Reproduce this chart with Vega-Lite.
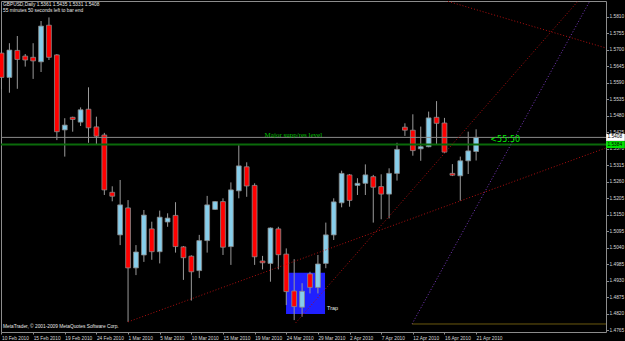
{
  "$schema": "https://vega.github.io/schema/vega-lite/v6.json",
  "width": 605,
  "height": 331,
  "autosize": {"type": "none"},
  "padding": {"left": 1, "top": 1, "right": 19, "bottom": 9},
  "background": "#000000",
  "config": {
    "view": {"stroke": "#8c8c8c", "fill": "#000000"},
    "text": {"font": "Liberation Sans"},
    "axis": {"labelOverlap": false, "labelFlush": false, "grid": false, "domain": false, "title": null}
  },
  "datasets": {
    "candles": [
      {"i": 0, "o": 1.5689, "h": 1.5766, "l": 1.5569, "c": 1.5608},
      {"i": 1, "o": 1.5608, "h": 1.5722, "l": 1.5557, "c": 1.5699},
      {"i": 2, "o": 1.5698, "h": 1.5746, "l": 1.5570, "c": 1.5668},
      {"i": 3, "o": 1.5679, "h": 1.5686, "l": 1.5644, "c": 1.5666},
      {"i": 4, "o": 1.5675, "h": 1.5722, "l": 1.5603, "c": 1.5663},
      {"i": 5, "o": 1.5660, "h": 1.5796, "l": 1.5626, "c": 1.5779},
      {"i": 6, "o": 1.5782, "h": 1.5808, "l": 1.5666, "c": 1.5675},
      {"i": 7, "o": 1.5683, "h": 1.5686, "l": 1.5399, "c": 1.5427},
      {"i": 8, "o": 1.5433, "h": 1.5472, "l": 1.5344, "c": 1.5449},
      {"i": 9, "o": 1.5475, "h": 1.5477, "l": 1.5427, "c": 1.5468},
      {"i": 10, "o": 1.5459, "h": 1.5508, "l": 1.5446, "c": 1.5500},
      {"i": 11, "o": 1.5502, "h": 1.5575, "l": 1.5390, "c": 1.5440},
      {"i": 12, "o": 1.5443, "h": 1.5477, "l": 1.5383, "c": 1.5412},
      {"i": 13, "o": 1.5416, "h": 1.5423, "l": 1.5216, "c": 1.5233},
      {"i": 14, "o": 1.5225, "h": 1.5245, "l": 1.5195, "c": 1.5212},
      {"i": 15, "o": 1.5083, "h": 1.5266, "l": 1.5049, "c": 1.5183},
      {"i": 16, "o": 1.5173, "h": 1.5199, "l": 1.4793, "c": 1.4973},
      {"i": 17, "o": 1.4973, "h": 1.5049, "l": 1.4949, "c": 1.5026},
      {"i": 18, "o": 1.5016, "h": 1.5166, "l": 1.4993, "c": 1.5149},
      {"i": 19, "o": 1.5103, "h": 1.5127, "l": 1.5000, "c": 1.5027},
      {"i": 20, "o": 1.5027, "h": 1.5164, "l": 1.4988, "c": 1.5142},
      {"i": 21, "o": 1.5126, "h": 1.5155, "l": 1.5110, "c": 1.5139},
      {"i": 22, "o": 1.5148, "h": 1.5192, "l": 1.5024, "c": 1.5044},
      {"i": 23, "o": 1.5043, "h": 1.5046, "l": 1.4933, "c": 1.5007},
      {"i": 24, "o": 1.5012, "h": 1.5015, "l": 1.4864, "c": 1.4960},
      {"i": 25, "o": 1.4964, "h": 1.5083, "l": 1.4939, "c": 1.5064},
      {"i": 26, "o": 1.5064, "h": 1.5213, "l": 1.5024, "c": 1.5183},
      {"i": 27, "o": 1.5168, "h": 1.5196, "l": 1.5166, "c": 1.5194},
      {"i": 28, "o": 1.5194, "h": 1.5205, "l": 1.5016, "c": 1.5042},
      {"i": 29, "o": 1.5044, "h": 1.5258, "l": 1.4983, "c": 1.5233},
      {"i": 30, "o": 1.5230, "h": 1.5382, "l": 1.5205, "c": 1.5313},
      {"i": 31, "o": 1.5310, "h": 1.5325, "l": 1.5210, "c": 1.5246},
      {"i": 32, "o": 1.5248, "h": 1.5255, "l": 1.4983, "c": 1.5010},
      {"i": 33, "o": 1.4996, "h": 1.5013, "l": 1.4968, "c": 1.4990},
      {"i": 34, "o": 1.4988, "h": 1.5108, "l": 1.4927, "c": 1.5106},
      {"i": 35, "o": 1.5103, "h": 1.5110, "l": 1.4968, "c": 1.5017},
      {"i": 36, "o": 1.5019, "h": 1.5038, "l": 1.4849, "c": 1.4894},
      {"i": 37, "o": 1.4896, "h": 1.5002, "l": 1.4799, "c": 1.4844},
      {"i": 38, "o": 1.4842, "h": 1.4922, "l": 1.4810, "c": 1.4895},
      {"i": 39, "o": 1.4953, "h": 1.4960, "l": 1.4888, "c": 1.4908},
      {"i": 40, "o": 1.4908, "h": 1.5016, "l": 1.4888, "c": 1.4986},
      {"i": 41, "o": 1.4988, "h": 1.5124, "l": 1.4972, "c": 1.5083},
      {"i": 42, "o": 1.5083, "h": 1.5205, "l": 1.5066, "c": 1.5193},
      {"i": 43, "o": 1.5190, "h": 1.5297, "l": 1.5175, "c": 1.5288},
      {"i": 44, "o": 1.5283, "h": 1.5286, "l": 1.5177, "c": 1.5198},
      {"i": 45, "o": 1.5248, "h": 1.5272, "l": 1.5216, "c": 1.5255},
      {"i": 46, "o": 1.5255, "h": 1.5318, "l": 1.5216, "c": 1.5283},
      {"i": 47, "o": 1.5277, "h": 1.5283, "l": 1.5124, "c": 1.5242},
      {"i": 48, "o": 1.5244, "h": 1.5285, "l": 1.5135, "c": 1.5219},
      {"i": 49, "o": 1.5219, "h": 1.5305, "l": 1.5138, "c": 1.5288},
      {"i": 50, "o": 1.5288, "h": 1.5390, "l": 1.5264, "c": 1.5368},
      {"i": 51, "o": 1.5442, "h": 1.5455, "l": 1.5413, "c": 1.5432},
      {"i": 52, "o": 1.5432, "h": 1.5485, "l": 1.5347, "c": 1.5364},
      {"i": 53, "o": 1.5370, "h": 1.5444, "l": 1.5330, "c": 1.5377},
      {"i": 54, "o": 1.5377, "h": 1.5494, "l": 1.5375, "c": 1.5473},
      {"i": 55, "o": 1.5475, "h": 1.5529, "l": 1.5385, "c": 1.5455},
      {"i": 56, "o": 1.5456, "h": 1.5473, "l": 1.5357, "c": 1.5359},
      {"i": 57, "o": 1.5288, "h": 1.5319, "l": 1.5279, "c": 1.5282},
      {"i": 58, "o": 1.5280, "h": 1.5344, "l": 1.5197, "c": 1.5330},
      {"i": 59, "o": 1.5330, "h": 1.5427, "l": 1.5286, "c": 1.5363},
      {"i": 60, "o": 1.5361, "h": 1.5435, "l": 1.5331, "c": 1.5408}
    ],
    "lines": [
      {"id": "t1", "i": 16, "p": 1.4793},
      {"id": "t1", "i": 76.42, "p": 1.5373},
      {"id": "t2", "i": 37.2, "p": 1.4790},
      {"id": "t2", "i": 73, "p": 1.5866},
      {"id": "t3", "i": 51.9, "p": 1.4786},
      {"id": "t3", "i": 74.3, "p": 1.5859},
      {"id": "t4", "i": 47, "p": 1.5935},
      {"id": "t4", "i": 76.42, "p": 1.5706},
      {"id": "t5", "i": 51.9, "p": 1.4786},
      {"id": "t5", "i": 76.42, "p": 1.4786}
    ]
  },
  "layer": [
    {
      "data": {"values": [{"i1": 35.97, "i2": 40.9, "p1": 1.4957, "p2": 1.4819}]},
      "mark": {"type": "rect", "color": "#2020ff"},
      "encoding": {
        "x": {
          "field": "i1",
          "type": "quantitative",
          "scale": {"domain": [-0.063, 76.42], "nice": false, "zero": false, "padding": 0},
          "axis": {
            "values": [0, 4, 8, 12, 16, 20, 24, 28, 32, 36, 40, 44, 48, 52, 56, 60],
            "tickCount": 100,
            "labelExpr": "['10 Feb 2010','15 Feb 2010','19 Feb 2010','24 Feb 2010','1 Mar 2010','5 Mar 2010','10 Mar 2010','15 Mar 2010','19 Mar 2010','24 Mar 2010','29 Mar 2010','2 Apr 2010','7 Apr 2010','12 Apr 2010','16 Apr 2010','21 Apr 2010'][round(datum.value/4)]",
            "labelAlign": "left",
            "labelBaseline": "top",
            "labelColor": "#d8d8d8",
            "labelFont": "Liberation Sans",
            "labelFontSize": 4.8,
            "labelPadding": 1,
            "labelOverlap": false,
            "labelFlush": false,
            "tickColor": "#8c8c8c",
            "tickSize": 2,
            "domain": false,
            "grid": false,
            "title": null
          }
        },
        "x2": {"field": "i2"},
        "y": {
          "field": "p1",
          "type": "quantitative",
          "scale": {"domain": [1.47593, 1.58627], "nice": false, "zero": false, "padding": 0},
          "axis": {
            "orient": "right",
            "values": [1.4765, 1.482, 1.4875, 1.493, 1.4985, 1.504, 1.5095, 1.515, 1.5205, 1.526, 1.5315, 1.537, 1.5425, 1.548, 1.5535, 1.559, 1.5645, 1.57, 1.5755, 1.581],
            "tickCount": 100,
            "format": ".4f",
            "labelColor": "#d8d8d8",
            "labelFont": "Liberation Sans",
            "labelFontSize": 4.8,
            "labelPadding": 0.5,
            "labelOverlap": false,
            "labelFlush": false,
            "tickColor": "#8c8c8c",
            "tickSize": 2.5,
            "domain": false,
            "grid": false,
            "title": null
          }
        },
        "y2": {"field": "p2"}
      }
    },
    {
      "data": {"name": "candles"},
      "mark": {"type": "rule", "color": "#9a9a9a", "strokeWidth": 1},
      "encoding": {
        "x": {"field": "i", "type": "quantitative"},
        "y": {"field": "l", "type": "quantitative"},
        "y2": {"field": "h"}
      }
    },
    {
      "data": {"name": "candles"},
      "mark": {"type": "bar", "orient": "vertical", "size": 4.8, "stroke": "#8a8a8a", "strokeWidth": 0.8},
      "encoding": {
        "x": {"field": "i", "type": "quantitative"},
        "y": {"field": "o", "type": "quantitative"},
        "y2": {"field": "c"},
        "color": {"condition": {"test": "datum.c >= datum.o", "value": "#87ceeb"}, "value": "#ff0000"}
      }
    },
    {
      "data": {"values": [{"p": 1.5408}]},
      "mark": {"type": "rule", "color": "#8a8a8a", "strokeWidth": 1},
      "encoding": {"y": {"field": "p", "type": "quantitative"}}
    },
    {
      "data": {"values": [{"p": 1.5384}]},
      "mark": {"type": "rule", "color": "#0a6a0a", "strokeWidth": 2},
      "encoding": {"y": {"field": "p", "type": "quantitative"}}
    },
    {
      "data": {"name": "lines"},
      "mark": {"type": "line", "clip": true, "strokeWidth": 1},
      "encoding": {
        "x": {"field": "i", "type": "quantitative"},
        "y": {"field": "p", "type": "quantitative"},
        "detail": {"field": "id"},
        "color": {
          "field": "id",
          "type": "nominal",
          "scale": {"domain": ["t1", "t2", "t3", "t4", "t5"], "range": ["#b01010", "#b01010", "#7a3ac0", "#b01010", "#6e5c10"]},
          "legend": null
        },
        "strokeDash": {
          "field": "id",
          "type": "nominal",
          "scale": {"domain": ["t1", "t2", "t3", "t4", "t5"], "range": [[1, 2], [1, 2], [1, 2], [1, 2], [1, 0]]},
          "legend": null
        }
      }
    },
    {
      "data": {"values": [{"p": 1.5408, "t": "1.5408"}, {"p": 1.5384, "t": "1.5384"}]},
      "mark": {"type": "bar", "orient": "horizontal", "size": 7, "clip": false},
      "encoding": {
        "x": {"datum": 76.45, "type": "quantitative"},
        "x2": {"datum": 78.8},
        "y": {"field": "p", "type": "quantitative"},
        "color": {"condition": {"test": "datum.t == '1.5408'", "value": "#ffffff"}, "value": "#00e000"}
      }
    },
    {
      "data": {"values": [{"p": 1.5408, "t": "1.5408"}, {"p": 1.5384, "t": "1.5384"}]},
      "mark": {"type": "text", "align": "left", "baseline": "middle", "fontSize": 4.8, "color": "#000000", "clip": false},
      "encoding": {
        "x": {"datum": 76.6, "type": "quantitative"},
        "y": {"field": "p", "type": "quantitative"},
        "text": {"field": "t"}
      }
    },
    {
      "data": {"values": [{"i": 0.2, "p": 1.5849, "t": "GBPUSD,Daily  1.5361 1.5435 1.5331 1.5408"}, {"i": 0.2, "p": 1.5830, "t": "55 minutes 50 seconds left to bar end"}, {"i": 0.2, "p": 1.4776, "t": "MetaTrader, © 2001-2009 MetaQuotes Software Corp."}]},
      "mark": {"type": "text", "align": "left", "baseline": "middle", "fontSize": 4.8, "color": "#e8e8e8"},
      "encoding": {
        "x": {"field": "i", "type": "quantitative"},
        "y": {"field": "p", "type": "quantitative"},
        "text": {"field": "t"}
      }
    },
    {
      "data": {"values": [{"i": 36.9, "p": 1.5417, "t": "Major supp/res level"}]},
      "mark": {"type": "text", "align": "center", "baseline": "middle", "fontSize": 7, "font": "Liberation Serif", "color": "#00c000"},
      "encoding": {
        "x": {"field": "i", "type": "quantitative"},
        "y": {"field": "p", "type": "quantitative"},
        "text": {"field": "t"}
      }
    },
    {
      "data": {"values": [{"i": 61.8, "p": 1.5399, "t": "<55:50"}]},
      "mark": {"type": "text", "align": "left", "baseline": "middle", "fontSize": 8, "font": "DejaVu Sans", "color": "#00ee00"},
      "encoding": {
        "x": {"field": "i", "type": "quantitative"},
        "y": {"field": "p", "type": "quantitative"},
        "text": {"field": "t"}
      }
    },
    {
      "data": {"values": [{"i": 41.15, "p": 1.4839, "t": "Trap"}]},
      "mark": {"type": "text", "align": "left", "baseline": "middle", "fontSize": 5.5, "color": "#e8e8e8"},
      "encoding": {
        "x": {"field": "i", "type": "quantitative"},
        "y": {"field": "p", "type": "quantitative"},
        "text": {"field": "t"}
      }
    }
  ]
}
